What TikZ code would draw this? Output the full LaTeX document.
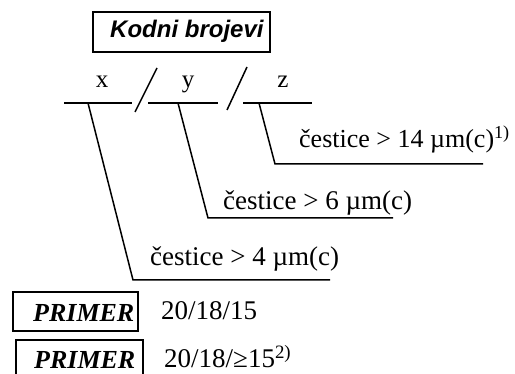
\documentclass[tikz,border=0pt]{standalone}
\usepackage{fontspec}
\setmainfont{Liberation Serif}
\newfontfamily\arialf{Liberation Sans}
\begin{document}
\begin{tikzpicture}[x=1pt,y=-1pt,
  ln/.style={line width=1.5pt},
  frame/.style={draw, line width=1.6pt, rectangle, inner sep=0pt},
  txt/.style={anchor=base west, inner sep=0pt, font=\fontsize{27}{30}\selectfont},
  lbl/.style={anchor=base, inner sep=0pt, font=\fontsize{25}{28}\selectfont},
  head/.style={anchor=base west, inner sep=0pt, font=\arialf\bfseries\itshape\fontsize{24}{27}\selectfont},
  prim/.style={anchor=base west, inner sep=0pt, font=\bfseries\itshape\fontsize{26}{28}\selectfont}
]
\useasboundingbox (0,0) rectangle (515,374);

% title box
\node[frame, minimum width=177pt, minimum height=40pt] (kbox) at (181.5,32) {};
\node[head] (ktxt) at (110,38) {Kodni brojevi};

% code fields
\coordinate (h1a) at (64,103);  \coordinate (h1b) at (132,103);
\coordinate (h2a) at (148,103); \coordinate (h2b) at (218,103);
\coordinate (h3a) at (243,103); \coordinate (h3b) at (312,103);
\coordinate (s1a) at (135,112); \coordinate (s1b) at (157,68);
\coordinate (s2a) at (227,110); \coordinate (s2b) at (247,67);
\draw[ln] (h1a) -- (h1b);
\draw[ln] (h2a) -- (h2b);
\draw[ln] (h3a) -- (h3b);
\draw[ln] (s1a) -- (s1b);
\draw[ln] (s2a) -- (s2b);

\node[lbl] (lx) at (102,88) {x};
\node[lbl] (ly) at (188,88) {y};
\node[lbl] (lz) at (283,88) {z};

% leaders
\coordinate (l1a) at (88,103);  \coordinate (l1b) at (133,280); \coordinate (l1c) at (330,280);
\coordinate (l2a) at (178,103); \coordinate (l2b) at (208,218); \coordinate (l2c) at (393,218);
\coordinate (l3a) at (259,103); \coordinate (l3b) at (275,164); \coordinate (l3c) at (483,164);
\draw[ln] (l1a) -- (l1b) -- (l1c);
\draw[ln] (l2a) -- (l2b) -- (l2c);
\draw[ln] (l3a) -- (l3b) -- (l3c);

\node[txt, font=\fontsize{26}{29}\selectfont] (t14) at (299,148) {čestice > 14 µm(c)\textsuperscript{1)}};
\node[txt] (t6) at (223,210) {čestice > 6 µm(c)};
\node[txt] (t4) at (150,266) {čestice > 4 µm(c)};

% examples
\node[frame, minimum width=125pt, minimum height=39pt] (p1) at (75.5,311.5) {};
\node[prim] (p1t) at (33,322) {PRIMER};
\node[txt] (e1) at (161,320) {20/18/15};

\node[frame, minimum width=127pt, minimum height=42pt] (p2) at (79.5,361) {};
\node[prim] (p2t) at (34,369) {PRIMER};
\node[txt] (e2) at (164,368) {20/18/≥15\textsuperscript{2)}};
\end{tikzpicture}
\end{document}
